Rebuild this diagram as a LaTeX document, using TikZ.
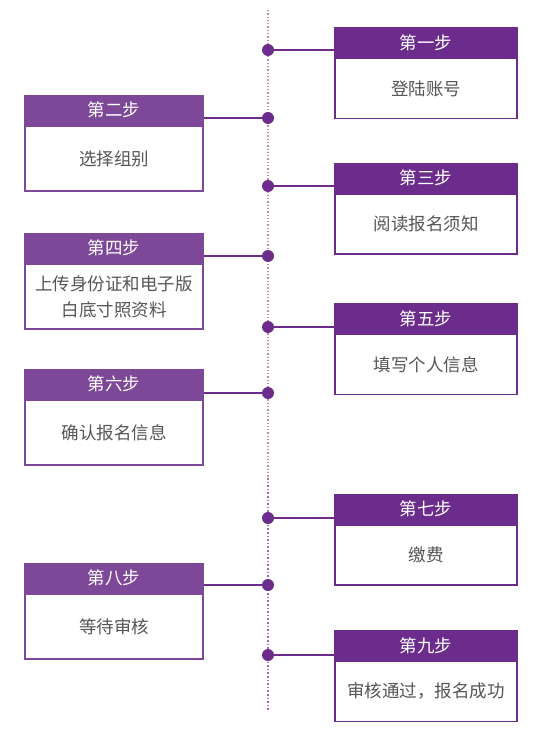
\documentclass[tikz,border=0pt]{standalone}
\usepackage{fontspec}
\newfontfamily\cjk{Noto Sans CJK SC}
\definecolor{StepDark}{RGB}{108,44,140}
\definecolor{StepLight}{RGB}{126,72,152}
\definecolor{LinePink}{RGB}{205,130,165}
\definecolor{LinePurple}{RGB}{160,110,165}
\definecolor{TextGray}{RGB}{85,85,85}
\usetikzlibrary{positioning}

\begin{document}
\begin{tikzpicture}[x=1pt, y=-1pt,
    hdr/.style={fill=#1, draw=#1, line width=1.5pt, text=white, font=\cjk\fontsize{17.5}{19}\selectfont,
                minimum height=29pt, inner sep=0pt},
    hdrR/.style={hdr=StepDark, minimum width=182pt},
    hdrL/.style={hdr=StepLight, minimum width=178pt},
    boxR/.style={draw=StepDark, line width=1.5pt, fill=white, text=TextGray, align=center,
                 font=\cjk\fontsize{17.5}{26}\selectfont, minimum width=182pt, minimum height=60pt, inner sep=0pt},
    boxL/.style={boxR, draw=StepLight, minimum width=178pt, minimum height=65pt},
    dot/.style={circle, fill=StepDark, minimum size=12pt, inner sep=0pt},
    link/.style={StepDark, line width=1.6pt}]
  \useasboundingbox (0,0) rectangle (544,735);

  % timeline
  \coordinate (top) at (268,10);
  \coordinate (mid) at (268,478);
  \coordinate (bot) at (268,710);
  \draw[LinePink, line width=1.3pt, dotted] (top) -- (mid);
  \draw[LinePurple, line width=1.6pt, dotted] (mid) -- (bot);

  % steps on the right
  \node[hdrR] (h1) at (426,42.5) {第一步};
  \node[boxR, below=0pt of h1] (b1) {登陆账号};
  \node[hdrR] (h3) at (426,178) {第三步};
  \node[boxR, below=0pt of h3] (b3) {阅读报名须知};
  \node[hdrR] (h5) at (426,318.5) {第五步};
  \node[boxR, below=0pt of h5] (b5) {填写个人信息};
  \node[hdrR] (h7) at (426,509) {第七步};
  \node[boxR, below=0pt of h7] (b7) {缴费};
  \node[hdrR] (h9) at (426,645.5) {第九步};
  \node[boxR, below=0pt of h9] (b9) {审核通过，报名成功};

  % steps on the left
  \node[hdrL] (h2) at (114,110) {第二步};
  \node[boxL, below=0pt of h2] (b2) {选择组别};
  \node[hdrL] (h4) at (114,248) {第四步};
  \node[boxL, below=0pt of h4] (b4) {上传身份证和电子版\\白底寸照资料};
  \node[hdrL] (h6) at (114,384) {第六步};
  \node[boxL, below=0pt of h6] (b6) {确认报名信息};
  \node[hdrL] (h8) at (114,578) {第八步};
  \node[boxL, below=0pt of h8] (b8) {等待审核};

  % dots and links
  \node[dot] (d1) at (268,50) {};
  \node[dot] (d2) at (268,118) {};
  \node[dot] (d3) at (268,186) {};
  \node[dot] (d4) at (268,256) {};
  \node[dot] (d5) at (268,327) {};
  \node[dot] (d6) at (268,393) {};
  \node[dot] (d7) at (268,518) {};
  \node[dot] (d8) at (268,585) {};
  \node[dot] (d9) at (268,655) {};
  \foreach \i in {1,3,5,7,9}
    \draw[link] (d\i.center) -- (d\i -| h\i.west);
  \foreach \i in {2,4,6,8}
    \draw[link] (d\i.center) -- (d\i -| h\i.east);
\end{tikzpicture}
\end{document}
